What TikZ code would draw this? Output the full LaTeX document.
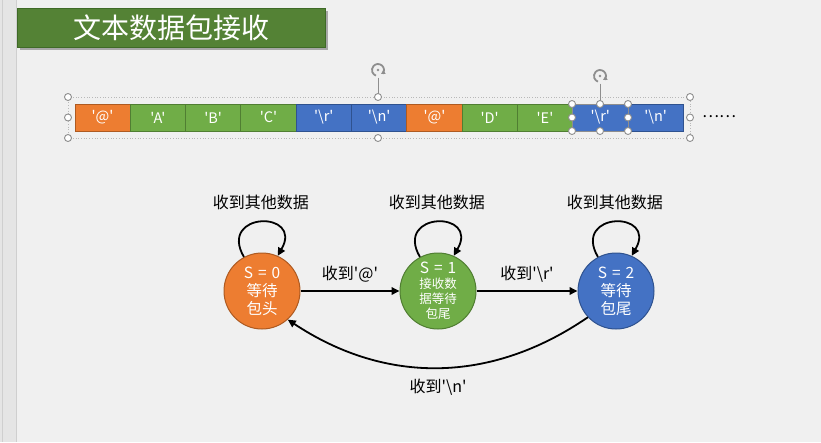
\documentclass[tikz,border=0pt]{standalone}
\usepackage{fontspec}
\setmainfont{Noto Sans CJK SC}[Ligatures=TeXOff]
\usetikzlibrary{arrows.meta}
\definecolor{bg}{HTML}{F0F0F0}
\definecolor{strip}{HTML}{E5E5E5}
\definecolor{stripline}{HTML}{CFCFCF}
\definecolor{cor}{HTML}{ED7D31}
\definecolor{corB}{HTML}{AE5A21}
\definecolor{cgr}{HTML}{70AD47}
\definecolor{cgrB}{HTML}{507E32}
\definecolor{cbl}{HTML}{4472C4}
\definecolor{cblB}{HTML}{2F528F}
\definecolor{tgreen}{HTML}{548235}
\definecolor{tgreenB}{HTML}{3F6A27}
\definecolor{hgray}{HTML}{8E8E8E}
\definecolor{selgray}{HTML}{B8B8B8}
\newcommand\sq{\hspace{0.32em}}
\begin{document}
\begin{tikzpicture}[x=1pt,y=-1pt,
  cell/.style={draw, line width=0.8pt, minimum width=55.3pt, minimum height=27pt, inner sep=0pt, text=white, font=\fontsize{14.5}{14.5}\selectfont},
  oc/.style={cell, fill=cor, draw=corB},
  gc/.style={cell, fill=cgr, draw=cgrB},
  bc/.style={cell, fill=cbl, draw=cblB},
  state/.style={circle, minimum size=76pt, inner sep=0pt, line width=1pt, text=white, align=center},
  lbl/.style={font=\fontsize{16}{16}\selectfont, inner sep=0pt, text=black},
  edge/.style={line width=1.8pt, -{Triangle[length=8pt,width=7.5pt]}},
  handle/.style={circle, draw=hgray, fill=white, line width=0.9pt, minimum size=7pt, inner sep=0pt},
  rot/.style={draw=hgray, line width=1.8pt}
]
\useasboundingbox (0,0) rectangle (821,442);
\fill[bg] (0,0) rectangle (821,442);
\fill[strip] (0,0) rectangle (16.5,442);
\draw[stripline, line width=0.8pt] (16.5,0) -- (16.5,442);
\draw[stripline, line width=0.6pt] (2.5,0) -- (2.5,442);

% title
\fill[black, opacity=0.3] (19.5,10.5) rectangle (327.5,49.5);
\node[fill=tgreen, draw=tgreenB, line width=0.8pt, minimum width=308pt, minimum height=39pt, inner sep=0pt, text=white, font=\fontsize{28}{28}\selectfont] (title) at (171,27.5) {文本数据包接收};

% data cells
\draw[selgray, dotted, line width=0.7pt] (68,97) rectangle (690,138);
\node[oc] (c1) at (102.6,117.5) {'@'};
\node[gc] (c2) at (157.9,117.5) {'A'};
\node[gc] (c3) at (213.2,117.5) {'B'};
\node[gc] (c4) at (268.5,117.5) {'C'};
\node[bc] (c5) at (323.8,117.5) {'\textbackslash r'};
\node[bc] (c6) at (379.1,117.5) {'\textbackslash n'};
\node[oc] (c7) at (434.4,117.5) {'@'};
\node[gc] (c8) at (489.7,117.5) {'D'};
\node[gc] (c9) at (545.0,117.5) {'E'};
\node[bc] (c10) at (600.3,117.5) {'\textbackslash r'};
\node[bc] (c11) at (655.6,117.5) {'\textbackslash n'};
\node[font=\fontsize{16}{16}\selectfont, inner sep=0pt] (dots) at (719,117) {……};

% selection handles
\draw[hgray, line width=0.8pt] (378,77.5) -- (378,93.5);
\draw[rot] (378,70) ++(40:6) arc[start angle=40, end angle=-250, radius=6];
\fill[hgray] (378,70) ++(40:6) ++(-1.5,0) -- ++(0:4.5) -- ++(240:4.5) -- cycle;
\fill[hgray] (378,70) circle (1.3);
\foreach \p [count=\i] in {(68,97),(378,97),(690,97),(68,117.5),(690,117.5),(68,138),(378,138),(690,138)}
  \node[handle] (ho\i) at \p {};
\draw[hgray, line width=0.6pt] (572,104) rectangle (628,131);
\draw[hgray, line width=0.8pt] (600,83.5) -- (600,100.5);
\draw[rot] (600,76) ++(40:6) arc[start angle=40, end angle=-250, radius=6];
\fill[hgray] (600,76) ++(40:6) ++(-1.5,0) -- ++(0:4.5) -- ++(240:4.5) -- cycle;
\fill[hgray] (600,76) circle (1.3);
\foreach \p [count=\i] in {(572,104),(600,104),(628,104),(572,117.5),(628,117.5),(572,131),(600,131),(628,131)}
  \node[handle] (hi\i) at \p {};

% states
\node[state, fill=cor, draw=corB, font=\fontsize{15.5}{18}\selectfont] (s0) at (262,291) {S\sq=\sq0\\等待\\包头};
\node[state, fill=cgr, draw=cgrB, font=\fontsize{12.5}{15}\selectfont] (s1) at (438,291) {\fontsize{15.5}{16}\selectfont S\sq=\sq1\\接收数\\据等待\\包尾};
\node[state, fill=cbl, draw=cblB, font=\fontsize{15.5}{18}\selectfont] (s2) at (616,291) {S\sq=\sq2\\等待\\包尾};

% transitions
\draw[edge] (s0.118) to[out=120,in=60,looseness=4] node[lbl, above=11pt] {收到其他数据} (s0.66);
\draw[edge] (s1.118) to[out=120,in=60,looseness=4] node[lbl, above=11pt] {收到其他数据} (s1.66);
\draw[edge] (s2.118) to[out=120,in=60,looseness=4] node[lbl, above=11pt] {收到其他数据} (s2.66);
\draw[edge] (s0) -- node[lbl, above=8pt] {收到'@'} (s1);
\draw[edge] (s1) -- node[lbl, above=8pt] {收到'\textbackslash r'} (s2);
\draw[edge] (s2.223) to[bend left=34] node[lbl, below=10pt] {收到'\textbackslash n'} (s0.-48);
\end{tikzpicture}
\end{document}
